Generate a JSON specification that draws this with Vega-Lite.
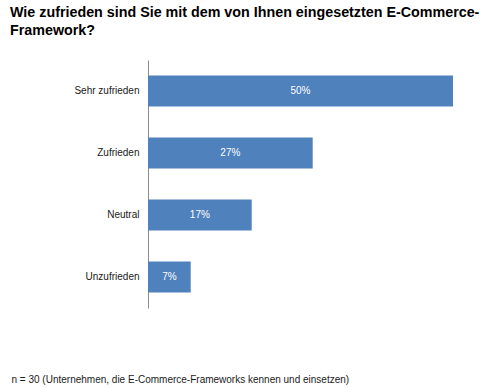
{
  "$schema": "https://vega.github.io/schema/vega-lite/v6.json",
  "width": 305,
  "height": 248,
  "autosize": {"type": "none"},
  "padding": {"left": 148, "top": 60, "right": 47, "bottom": 80},
  "background": "white",
  "config": {"view": {"stroke": null}, "font": "Liberation Sans"},
  "title": {
    "text": ["Wie zufrieden sind Sie mit dem von Ihnen eingesetzten E-Commerce-", "Framework?"],
    "anchor": "start",
    "frame": "group",
    "dx": -138,
    "offset": 22,
    "fontSize": 14.3,
    "lineHeight": 18,
    "fontWeight": "bold",
    "color": "#000000",
    "font": "Liberation Sans"
  },
  "data": {
    "values": [
      {"kategorie": "Sehr zufrieden", "anteil": 50, "label": "50%"},
      {"kategorie": "Zufrieden", "anteil": 27, "label": "27%"},
      {"kategorie": "Neutral", "anteil": 17, "label": "17%"},
      {"kategorie": "Unzufrieden", "anteil": 7, "label": "7%"}
    ]
  },
  "encoding": {
    "y": {
      "field": "kategorie",
      "type": "nominal",
      "sort": ["Sehr zufrieden", "Zufrieden", "Neutral", "Unzufrieden"],
      "scale": {"paddingInner": 0.5, "paddingOuter": 0.25},
      "axis": {
        "title": null,
        "ticks": false,
        "domainColor": "#8c8c8c",
        "domainWidth": 1,
        "labelFontSize": 10,
        "labelColor": "#1a1a1a",
        "labelPadding": 9,
        "labelFont": "Liberation Sans"
      }
    }
  },
  "layer": [
    {
      "mark": {"type": "bar", "color": "#4F81BD"},
      "encoding": {
        "x": {
          "field": "anteil",
          "type": "quantitative",
          "scale": {"domain": [0, 50], "nice": false},
          "axis": {
            "domain": false,
            "ticks": false,
            "labels": false,
            "grid": false,
            "title": "n = 30 (Unternehmen, die E-Commerce-Frameworks kennen und einsetzen)",
            "titleFontSize": 10,
            "titleFontWeight": "normal",
            "titleColor": "#1a1a1a",
            "titleFont": "Liberation Sans",
            "titleAnchor": "start",
            "titleAlign": "left",
            "titleBaseline": "alphabetic",
            "titleX": -137,
            "titleY": 74
          }
        }
      }
    },
    {
      "mark": {"type": "text", "color": "white", "fontSize": 10, "font": "Liberation Sans", "align": "center"},
      "encoding": {
        "x": {
          "field": "anteil",
          "type": "quantitative",
          "scale": {"domain": [0, 100], "nice": false},
          "axis": null
        },
        "text": {"field": "label"}
      }
    }
  ],
  "resolve": {"scale": {"x": "independent"}, "axis": {"x": "independent"}}
}
